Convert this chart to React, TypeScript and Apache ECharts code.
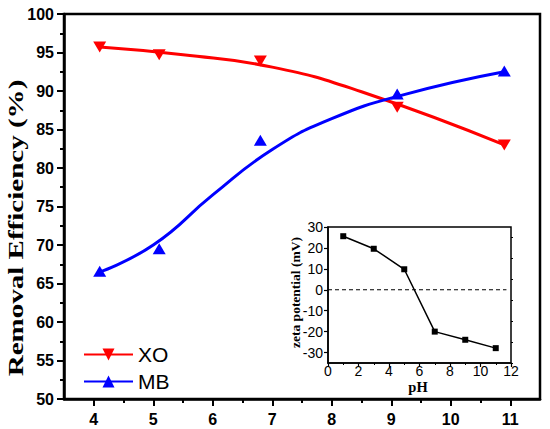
import React, { useEffect, useRef } from "react";
import * as echarts from "echarts";

// Main chart: measured points (pH, removal efficiency %)
const xoPoints: [number, number][] = [
  [4.1, 95.7], [5.1, 94.7], [6.8, 93.9], [9.1, 87.9], [10.9, 83.0],
];
const mbPoints: [number, number][] = [
  [4.1, 66.6], [5.1, 69.5], [6.8, 83.6], [9.1, 89.6], [10.9, 92.6],
];
// Fitted curves
const xoFit: [number, number][] = [
  [4.1, 95.7], [5.5, 94.7], [7, 93.1], [8.5, 89.9], [10.9, 83.0],
];
const mbFit: [number, number][] = [
  [4.1, 66.5], [5, 70.0], [6, 76.5], [7, 82.4], [8, 86.4], [9.2, 89.5], [10.9, 92.5],
];
const mainXTicks = [4, 5, 6, 7, 8, 9, 10, 11];
const mainXMinor = [4.5, 5.5, 6.5, 7.5, 8.5, 9.5, 10.5];

// Inset: zeta potential vs pH
const zetaPoints: [number, number][] = [
  [1, 25.6], [3, 19.6], [5, 9.8], [7, -20.0], [9, -23.9], [11, -27.9],
];
const zeroLine: [number, number][] = [[0, 0], [11.7, 0]];
const insetYTicks = [-30, -20, -10, 0, 10, 20, 30];
const insetYMinor = [-35, -25, -15, -5, 5, 15, 25];

const SANS = '"Liberation Sans", Arial, sans-serif';
const SERIF = '"Liberation Serif", "Times New Roman", serif';

export default function App() {
  const ref = useRef<HTMLDivElement>(null);
  useEffect(() => {
    document.body.style.margin = "0";
    if (!ref.current) return;
    const chart = echarts.init(ref.current, undefined, { renderer: "svg" });
    const black = "#000";
    chart.setOption({
      animation: false,
      backgroundColor: "#fff",
      grid: [
        { left: 64, top: 14, width: 476, height: 385, show: true, borderColor: black, borderWidth: 2.5, backgroundColor: "transparent" },
        { left: 328, top: 227, width: 183, height: 136, show: true, borderColor: black, borderWidth: 1.5, backgroundColor: "#fff", z: 5 },
      ],
      xAxis: [
        {
          gridIndex: 0, type: "value", min: 3.5, max: 11.5, position: "bottom",
          axisLine: { onZero: false, lineStyle: { color: black, width: 2.5 } },
          axisTick: { customValues: mainXTicks, length: 7, lineStyle: { color: black, width: 2 } },
          axisLabel: { customValues: mainXTicks, color: black, fontFamily: SANS, fontWeight: "bold", fontSize: 16, margin: 12 },
          splitLine: { show: false },
        },
        {
          gridIndex: 0, type: "value", min: 3.5, max: 11.5, position: "bottom",
          axisLine: { show: false, onZero: false },
          axisTick: { customValues: mainXMinor, length: 4, lineStyle: { color: black, width: 2 } },
          axisLabel: { show: false },
          splitLine: { show: false },
        },
        {
          gridIndex: 1, type: "value", min: 0, max: 12, interval: 2, position: "bottom", z: 6,
          axisLine: { onZero: false, lineStyle: { color: black, width: 1.5 } },
          axisTick: { length: 4, lineStyle: { color: black, width: 1.2 } },
          minorTick: { show: true, splitNumber: 2, length: 2, lineStyle: { color: black, width: 1 } },
          axisLabel: { color: black, fontFamily: SANS, fontSize: 14, margin: 1, lineHeight: 14 },
          splitLine: { show: false },
        },
      ],
      yAxis: [
        {
          gridIndex: 0, type: "value", min: 50, max: 100, interval: 5,
          axisLine: { show: true, onZero: false, lineStyle: { color: black, width: 2.5 } },
          axisTick: { show: true, length: 7, lineStyle: { color: black, width: 2 } },
          minorTick: { show: true, splitNumber: 2, length: 4, lineStyle: { color: black, width: 2 } },
          axisLabel: { color: black, fontFamily: SANS, fontWeight: "bold", fontSize: 16, margin: 10 },
          splitLine: { show: false },
        },
        {
          gridIndex: 1, type: "value", min: -35, max: 30, z: 6,
          axisLine: { show: true, onZero: false, lineStyle: { color: black, width: 1.5 } },
          axisTick: { show: true, customValues: insetYTicks, length: 4, lineStyle: { color: black, width: 1.2 } },
          axisLabel: { customValues: insetYTicks, color: black, fontFamily: SANS, fontSize: 14, margin: 5 },
          splitLine: { show: false },
        },
        {
          gridIndex: 1, type: "value", min: -35, max: 30, z: 6,
          axisLine: { show: false, onZero: false },
          axisTick: { show: true, customValues: insetYMinor, length: 2, lineStyle: { color: black, width: 1 } },
          axisLabel: { show: false },
          splitLine: { show: false },
        },
      ],
      legend: {
        data: ["XO", "MB"],
        orient: "vertical",
        left: 78,
        top: 339,
        itemWidth: 49,
        itemHeight: 15,
        itemGap: 6,
        textStyle: { color: black, fontFamily: SANS, fontSize: 21 },
        selectedMode: false,
      },
      series: [
        {
          name: "XO", type: "line", xAxisIndex: 0, yAxisIndex: 0, data: xoFit,
          smooth: 0.5, symbol: "triangle", symbolRotate: 180, showSymbol: false,
          itemStyle: { color: "#ff0000" }, lineStyle: { color: "#ff0000", width: 3 },
        },
        {
          name: "MB", type: "line", xAxisIndex: 0, yAxisIndex: 0, data: mbFit,
          smooth: 0.5, symbol: "triangle", showSymbol: false,
          itemStyle: { color: "#0000ff" }, lineStyle: { color: "#0000ff", width: 3 },
        },
        {
          type: "scatter", xAxisIndex: 0, yAxisIndex: 0, data: xoPoints,
          symbol: "triangle", symbolRotate: 180, symbolSize: [13, 11],
          itemStyle: { color: "#ff0000", opacity: 1 },
        },
        {
          type: "scatter", xAxisIndex: 0, yAxisIndex: 0, data: mbPoints,
          symbol: "triangle", symbolSize: [13, 11],
          itemStyle: { color: "#0000ff", opacity: 1 },
        },
        {
          type: "line", xAxisIndex: 2, yAxisIndex: 1, data: zeroLine, z: 6,
          symbol: "none", lineStyle: { color: black, width: 1.2, type: [4, 3] },
        },
        {
          type: "line", xAxisIndex: 2, yAxisIndex: 1, data: zetaPoints, z: 7,
          symbol: "rect", symbolSize: 6, itemStyle: { color: black },
          lineStyle: { color: black, width: 1.5 },
        },
      ],
      graphic: [
        {
          type: "text", x: 15.5, y: 228, rotation: Math.PI / 2, scaleX: 1.32,
          style: { text: "Removal Efficiency (%)", fontFamily: SERIF, fontWeight: "bold", fontSize: 22, fill: black, align: "center", verticalAlign: "middle" },
        },
        {
          type: "text", x: 295, y: 292.5, rotation: Math.PI / 2, z: 10,
          style: { text: "zeta potential (mV)", fontFamily: SERIF, fontWeight: "bold", fontSize: 13.5, fill: black, align: "center", verticalAlign: "middle" },
        },
        {
          type: "text", x: 418, y: 387, z: 10,
          style: { text: "pH", fontFamily: SERIF, fontWeight: "bold", fontSize: 14.5, fill: black, align: "center", verticalAlign: "middle" },
        },
      ],
    });
    return () => chart.dispose();
  }, []);
  return <div ref={ref} style={{ width: 550, height: 429 }} />;
}
